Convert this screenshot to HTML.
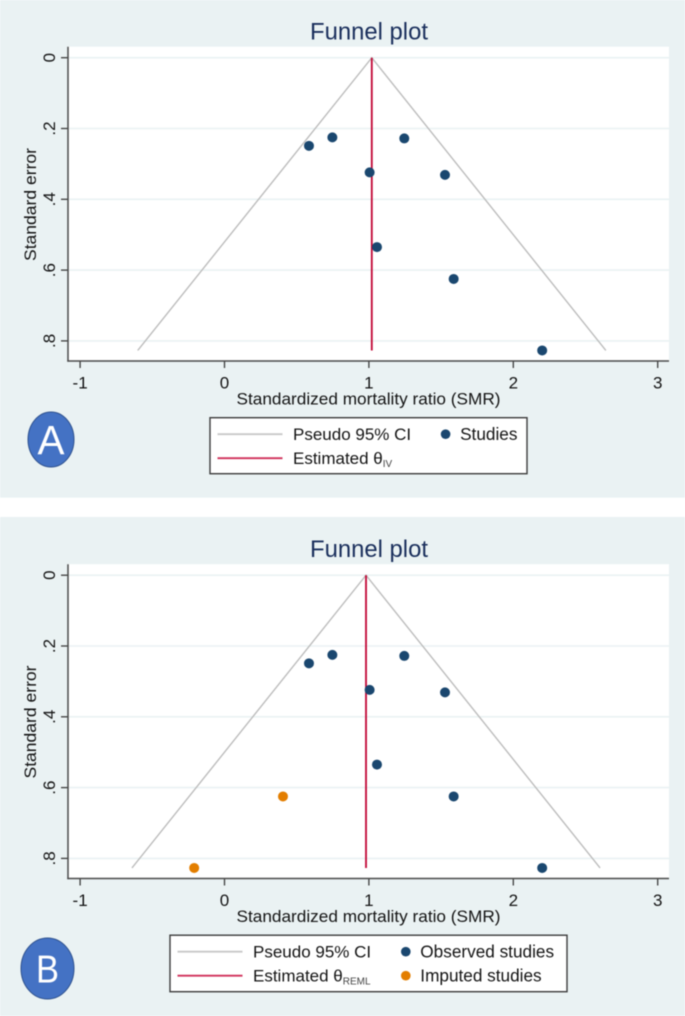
<!DOCTYPE html>
<html lang="en">
<head>
<meta charset="utf-8">
<title>Funnel plots</title>
<style>
html,body{margin:0;padding:0;background:#fff;}
body{width:685px;height:1016px;overflow:hidden;}
svg{display:block;font-family:"Liberation Sans",sans-serif;}
.soft{filter:blur(0.4px);}
</style>
</head>
<body>
<svg id="figure" class="soft" width="685" height="1016" viewBox="0 0 685 1016" xmlns="http://www.w3.org/2000/svg"></svg>
<script>
// Chart data
const xTicks = [-1, 0, 1, 2, 3];
const yTicks = [0, 0.2, 0.4, 0.6, 0.8];
const yTickLabels = ['0', '.2', '.4', '.6', '.8'];
const observedSMR = [0.585, 0.747, 1.245, 1.005, 1.527, 1.056, 1.587, 2.2];
const observedSE = [0.249, 0.225, 0.228, 0.324, 0.331, 0.535, 0.625, 0.827];
const imputedSMR = [0.405, -0.21];
const imputedSE = [0.625, 0.827];
const thetaA = 1.02;
const thetaB = 0.98;
const maxSE = 0.827;
const ciZ = 1.96;

const svg = document.getElementById('figure');
const NS = 'http://www.w3.org/2000/svg';
const INK = '#141414';

function make(tag, attrs, parent, text) {
  const el = document.createElementNS(NS, tag);
  for (const k in attrs) el.setAttribute(k, attrs[k]);
  if (text !== undefined) el.textContent = text;
  parent.appendChild(el);
  return el;
}

function xScale(v) { return 224.5 + v * 144.4; }
function yScale(v, off) { return 57.7 + off + v * 354; }

function drawPanel(opts) {
  const off = opts.off;
  const panel = make('g', {}, svg);
  
  

  const bg = make('rect', {x: 0, y: opts.bgTop, width: 685, height: opts.bgH, fill: '#eaf2f3'}, panel);
  
  

  const plot = make('rect', {x: 68, y: 46.7 + off, width: 601, height: 314.3, fill: '#ffffff'}, panel);
  
  

  const title = make('text', {x: 369, y: 39.4 + off, 'text-anchor': 'middle', 'font-size': 24, fill: '#1a2f5c', textLength: 118, lengthAdjust: 'spacingAndGlyphs'}, panel, 'Funnel plot');
  
  

  yTicks.forEach(function (t, i) {
    const y = yScale(t, off);
    const grid = make('line', {x1: 68, x2: 669, y1: y, y2: y, stroke: '#eaf2f3', 'stroke-width': 1.6}, panel);
    
    
    const tick = make('line', {x1: 61, x2: 68, y1: y, y2: y, stroke: '#3c3c3c', 'stroke-width': 1.3}, panel);
    
    
    const lab = make('text', {transform: 'translate(55,' + y + ') rotate(-90)', 'text-anchor': 'middle', 'font-size': 17, fill: INK}, panel, yTickLabels[i]);
    
    
  });

  xTicks.forEach(function (t) {
    const x = xScale(t);
    const tick = make('line', {x1: x, x2: x, y1: 361 + off, y2: 368 + off, stroke: '#3c3c3c', 'stroke-width': 1.3}, panel);
    
    
    const lab = make('text', {x: x, y: 388.5 + off, 'text-anchor': 'middle', 'font-size': 17, fill: INK}, panel, String(t));
    
    
  });

  const yAxis = make('line', {x1: 68, x2: 68, y1: 46.7 + off, y2: 361.6 + off, stroke: '#4a4a4a', 'stroke-width': 1.5}, panel);
  
  
  const xAxis = make('line', {x1: 67.3, x2: 669, y1: 361 + off, y2: 361 + off, stroke: '#4a4a4a', 'stroke-width': 1.5}, panel);
  
  

  const yTitle = make('text', {transform: 'translate(36,' + (204.5 + off) + ') rotate(-90)', 'text-anchor': 'middle', 'font-size': 17, fill: INK, textLength: 113, lengthAdjust: 'spacingAndGlyphs'}, panel, 'Standard error');
  
  

  const xTitle = make('text', {x: 368.5, y: 404.5 + off, 'text-anchor': 'middle', 'font-size': 17, fill: INK, textLength: 264, lengthAdjust: 'spacingAndGlyphs'}, panel, 'Standardized mortality ratio (SMR)');
  
  

  const th = opts.theta;
  const funnel = make('polyline', {
    points: xScale(th - ciZ * maxSE) + ',' + yScale(maxSE, off) + ' ' + xScale(th) + ',' + yScale(0, off) + ' ' + xScale(th + ciZ * maxSE) + ',' + yScale(maxSE, off),
    fill: 'none', stroke: '#bdbdbd', 'stroke-width': 1.4
  }, panel);
  
  

  const thetaLine = make('line', {x1: xScale(th), x2: xScale(th), y1: yScale(0, off), y2: yScale(maxSE, off), stroke: '#c10534', 'stroke-width': 1.8}, panel);
  
  

  observedSMR.forEach(function (v, i) {
    const dot = make('circle', {cx: xScale(v), cy: yScale(observedSE[i], off), r: 5, fill: '#1a476f'}, panel);
    
    
  });

  if (opts.imputed) {
    imputedSMR.forEach(function (v, i) {
      const dot = make('circle', {cx: xScale(v), cy: yScale(imputedSE[i], off), r: 5, fill: '#e37e00'}, panel);
      
      
    });
  }

  // Legend
  const L = opts.legend;
  const legend = make('g', {}, panel);
  
  
  const box = make('rect', {x: L.x, y: L.y, width: L.w, height: L.h, fill: '#ffffff', stroke: '#3c3c3c', 'stroke-width': 1.4}, legend);
  
  

  const r1 = L.y + 16.5, r2 = L.y + 40.5;
  const ci = make('line', {x1: L.x + 7.5, x2: L.x + 72.5, y1: r1, y2: r1, stroke: '#c8c8c8', 'stroke-width': 1.8}, legend);
  
  
  const ciT = make('text', {x: L.x + 83, y: r1 + 5.8, 'font-size': 17, fill: INK}, legend, 'Pseudo 95% CI');
  
  
  const red = make('line', {x1: L.x + 7.5, x2: L.x + 72.5, y1: r2, y2: r2, stroke: '#d0305a', 'stroke-width': 1.8}, legend);
  
  
  const estT = make('text', {x: L.x + 83, y: r2 + 5.8, 'font-size': 17, fill: INK}, legend, 'Estimated θ');
  
  
  make('tspan', {'font-size': 10, dy: 3, fill: '#444444'}, estT, opts.sub);

  const dot1 = make('circle', {cx: L.dotX, cy: r1, r: 4.8, fill: '#1a476f'}, legend);
  
  
  const t1 = make('text', {x: L.dotX + 14.5, y: r1 + 5.8, 'font-size': 17.2, fill: INK}, legend, opts.obsLabel);
  
  
  if (opts.imputed) {
    const dot2 = make('circle', {cx: L.dotX, cy: r2, r: 4.8, fill: '#e37e00'}, legend);
    
    
    const t2 = make('text', {x: L.dotX + 14.5, y: r2 + 5.8, 'font-size': 17.2, fill: INK}, legend, 'Imputed studies');
    
    
  }

  // Panel badge
  const B = opts.badge;
  const badge = make('ellipse', {cx: B.cx, cy: B.cy, rx: B.rx, ry: B.ry, fill: '#4472c4', stroke: '#2f528f', 'stroke-width': 1}, panel);
  
  
  const letter = make('text', {x: B.cx + B.dx, y: B.base, 'text-anchor': 'middle', 'font-size': B.size, fill: '#ffffff', textLength: B.len, lengthAdjust: 'spacingAndGlyphs'}, panel, opts.id);
  
  
}

drawPanel({
  id: 'A', off: 0, bgTop: 0, bgH: 497.7, theta: thetaA, imputed: false, sub: 'IV', obsLabel: 'Studies',
  legend: {x: 210, y: 417.7, w: 317, h: 56, dotX: 445.6},
  badge: {cx: 51, cy: 439.5, rx: 23, ry: 27.5, dx: 0, base: 454, size: 41, len: 27}
});
drawPanel({
  id: 'B', off: 517.5, bgTop: 517, bgH: 499, theta: thetaB, imputed: true, sub: 'REML', obsLabel: 'Observed studies',
  legend: {x: 170, y: 935.2, w: 397, h: 56.5, dotX: 405.8},
  badge: {cx: 47.5, cy: 968.5, rx: 26.5, ry: 30.5, dx: 0, base: 982.3, size: 39, len: 23}
});
</script>
</body>
</html>
